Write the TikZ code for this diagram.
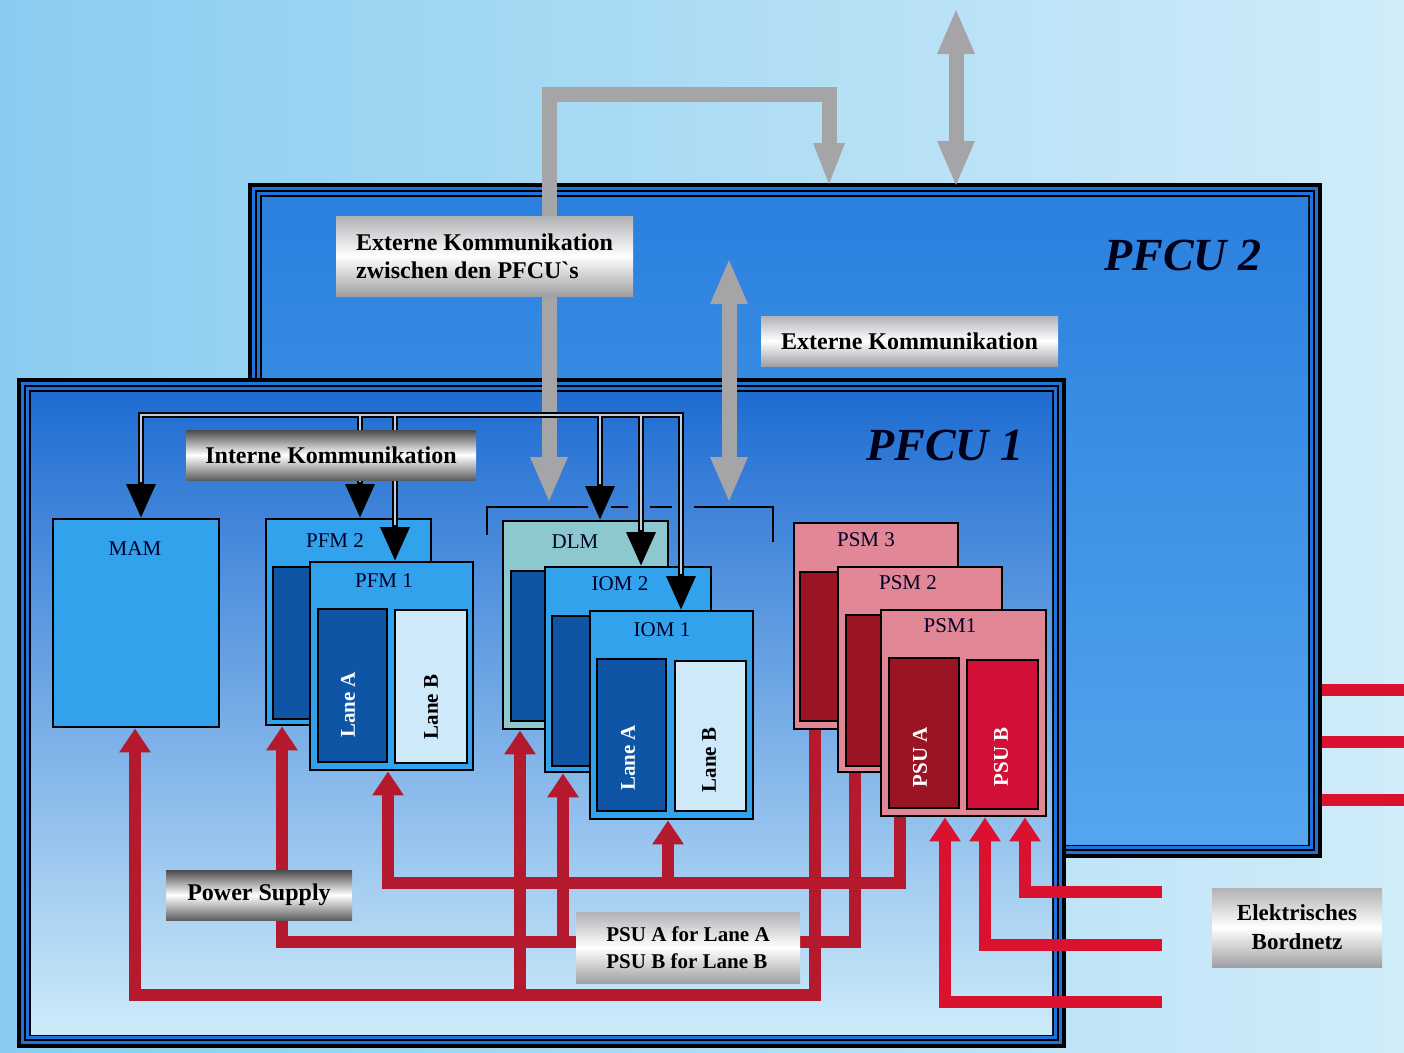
\documentclass[tikz,border=0pt]{standalone}
\usepackage{fontspec}
\setmainfont{Liberation Serif}
\usetikzlibrary{arrows.meta}
\definecolor{bgL}{RGB}{138,204,240}
\definecolor{bgR}{RGB}{208,236,249}
\definecolor{frameblue}{RGB}{30,115,220}
\definecolor{ptwoT}{RGB}{42,128,222}
\definecolor{ptwoB}{RGB}{85,165,238}
\definecolor{poneT}{RGB}{30,108,210}
\definecolor{poneM}{RGB}{95,170,236}
\definecolor{poneB}{RGB}{205,235,250}
\definecolor{modblue}{RGB}{50,162,236}
\definecolor{lanedark}{RGB}{15,85,165}
\definecolor{lanelight}{RGB}{205,233,250}
\definecolor{dlmcol}{RGB}{140,200,205}
\definecolor{psmpink}{RGB}{225,135,150}
\definecolor{psudark}{RGB}{155,20,35}
\definecolor{psucrim}{RGB}{210,15,55}
\definecolor{pwrred}{RGB}{180,25,45}
\definecolor{netred}{RGB}{218,18,48}
\definecolor{commgray}{RGB}{165,165,168}
\definecolor{commwhite}{RGB}{190,205,225}
\definecolor{silvT}{RGB}{178,178,182}
\definecolor{silvB}{RGB}{160,160,164}
\definecolor{darkT}{RGB}{75,75,78}
\definecolor{darkB}{RGB}{95,95,98}
\newcommand{\lblfont}{\fontsize{24}{28}\selectfont\bfseries}
\newcommand{\psulblfont}{\fontsize{21}{27}\selectfont\bfseries}
\newcommand{\modfont}{\fontsize{21}{24}\selectfont}
\newcommand{\lanefont}{\fontsize{21}{24}\selectfont\bfseries}
\newcommand{\pfcufont}{\fontsize{46}{50}\selectfont\bfseries\itshape}
\begin{document}
\begin{tikzpicture}[x=1pt,y=-1pt,
 mod/.style={draw=black,line width=2.4pt,inner sep=0pt,anchor=north west},
 lbl/.style={inner sep=0pt,font=\modfont,text=black!85!blue},
 lane/.style={inner sep=0pt,font=\lanefont,rotate=90},
 silver/.style={shade,top color=silvT,bottom color=silvB,middle color=white,inner sep=0pt,font=\lblfont},
 darkmetal/.style={shade,top color=darkT,bottom color=darkB,middle color=white,inner sep=0pt,font=\lblfont},
 pwr/.style={draw=pwrred,line width=12pt,line join=miter},
 net/.style={draw=netred,line width=12pt,line join=miter},
 rtip/.style={-{Triangle[width=30pt,length=24pt]}},
 comm/.style={draw=black,line width=6.5pt,line join=miter},
 commin/.style={draw=commwhite,line width=1.5pt,line join=miter},
 ctip/.style={-{Triangle[width=28pt,length=34pt]}},
 ctiptwo/.style={{Triangle[width=28pt,length=34pt]}-{Triangle[width=28pt,length=34pt]}},
 garrow/.style={draw=commgray,line width=15pt,line join=miter},
 gtiptwo/.style={{Triangle[width=34pt,length=46pt]}-{Triangle[width=34pt,length=46pt]}},
 title/.style={inner sep=0pt,font=\pfcufont,text=black!90!blue}
]
\useasboundingbox (0,0) rectangle (1404,1052);
\shade[left color=bgL,right color=bgR] (0,0) rectangle (1404,1052);

% PFCU 2 frame
\fill[frameblue] (248,183) rectangle (1322,858);
\draw[black,line width=4pt] (250,185) rectangle (1320,856);
\draw[black,line width=2.2pt] (256,191) rectangle (1314,850);
\draw[black,line width=2pt] (261,196) rectangle (1309,845);
\shade[top color=ptwoT,bottom color=ptwoB] (262,197) rectangle (1308,844);

% right stubs
\coordinate (sa1) at (1322,690); \coordinate (sa2) at (1404,690);
\coordinate (sb1) at (1322,742); \coordinate (sb2) at (1404,742);
\coordinate (sc1) at (1322,800); \coordinate (sc2) at (1404,800);
\draw[net] (sa1) -- (sa2);
\draw[net] (sb1) -- (sb2);
\draw[net] (sc1) -- (sc2);

% PFCU 1 frame
\fill[frameblue] (17,378) rectangle (1066,1048);
\draw[black,line width=4pt] (19,380) rectangle (1064,1046);
\draw[black,line width=2.2pt] (25,386) rectangle (1058,1040);
\draw[black,line width=2pt] (30,391) rectangle (1053,1035);
\shade[top color=poneT,middle color=poneM,bottom color=poneB] (31,392) rectangle (1052,1034);

% gray external communication arrows
\coordinate (gla) at (549,503); \coordinate (glb) at (549,94);
\coordinate (glc) at (829,94); \coordinate (gld) at (829,187);
\draw[garrow,{Triangle[width=34pt,length=46pt]}-{Triangle[width=28pt,length=44pt]}] (gla) -- (glb) -- (glc) -- (gld);
\coordinate (gta) at (956,8); \coordinate (gtb) at (956,187);
\draw[garrow,gtiptwo] (gta) -- (gtb);
\coordinate (gma) at (729,258); \coordinate (gmb) at (729,503);
\draw[garrow,gtiptwo] (gma) -- (gmb);

% bracket
\draw[black,line width=2.5pt] (487,535) -- (487,507) -- (588,507);
\draw[black,line width=2.5pt] (611,507) -- (628,507);
\draw[black,line width=2.5pt] (650,507) -- (672,507);
\draw[black,line width=2.5pt] (694,507) -- (773,507) -- (773,542);

% modules
\node[mod,fill=modblue,minimum width=166pt,minimum height=208pt] (mam) at (52,518) {};
\node[lbl] (mamt) at (135,549) {MAM};

\node[mod,fill=modblue,minimum width=165pt,minimum height=206pt] (pfm2) at (265,518) {};
\node[mod,fill=lanedark,minimum width=50pt,minimum height=152pt] (pfm2in) at (272,566) {};
\node[lbl] (pfm2t) at (335,541) {PFM 2};
\node[mod,fill=modblue,minimum width=163pt,minimum height=208pt] (pfm1) at (309,561) {};
\node[lbl] (pfm1t) at (384,581) {PFM 1};
\node[mod,fill=lanedark,minimum width=69pt,minimum height=153pt] (pfm1a) at (317,608) {};
\node[mod,fill=lanelight,minimum width=72pt,minimum height=153pt] (pfm1b) at (394,609) {};
\node[lane,text=white] (pfm1at) at (348,705) {Lane A};
\node[lane,text=black] (pfm1bt) at (431,707) {Lane B};

\node[mod,fill=dlmcol,minimum width=165pt,minimum height=208pt] (dlm) at (502,520) {};
\node[mod,fill=lanedark,minimum width=50pt,minimum height=150pt] (dlmin) at (510,570) {};
\node[lbl] (dlmt) at (575,542) {DLM};
\node[mod,fill=modblue,minimum width=166pt,minimum height=205pt] (iom2) at (544,566) {};
\node[mod,fill=lanedark,minimum width=50pt,minimum height=150pt] (iom2in) at (551,615) {};
\node[lbl] (iom2t) at (620,584) {IOM 2};
\node[mod,fill=modblue,minimum width=163pt,minimum height=208pt] (iom1) at (589,610) {};
\node[lbl] (iom1t) at (662,630) {IOM 1};
\node[mod,fill=lanedark,minimum width=69pt,minimum height=152pt] (iom1a) at (596,658) {};
\node[mod,fill=lanelight,minimum width=71pt,minimum height=150pt] (iom1b) at (674,660) {};
\node[lane,text=white] (iom1at) at (628,758) {Lane A};
\node[lane,text=black] (iom1bt) at (709,760) {Lane B};

\node[mod,fill=psmpink,minimum width=164pt,minimum height=206pt] (psm3) at (793,522) {};
\node[mod,fill=psudark,minimum width=50pt,minimum height=149pt] (psm3in) at (799,571) {};
\node[lbl] (psm3t) at (866,540) {PSM 3};
\node[mod,fill=psmpink,minimum width=164pt,minimum height=205pt] (psm2) at (837,566) {};
\node[mod,fill=psudark,minimum width=50pt,minimum height=151pt] (psm2in) at (845,614) {};
\node[lbl] (psm2t) at (908,583) {PSM 2};
\node[mod,fill=psmpink,minimum width=165pt,minimum height=206pt] (psm1) at (880,609) {};
\node[lbl] (psm1t) at (950,626) {PSM1};
\node[mod,fill=psudark,minimum width=70pt,minimum height=150pt] (psua) at (888,657) {};
\node[mod,fill=psucrim,minimum width=71pt,minimum height=149pt] (psub) at (966,659) {};
\node[lane,text=white] (psuat) at (920,757) {PSU A};
\node[lane,text=white] (psubt) at (1001,757) {PSU B};

% power supply lines
\coordinate (ra) at (815,995); \coordinate (ral) at (135,995); \coordinate (rad) at (520,995);
\coordinate (rb) at (855,942); \coordinate (rbl) at (282,942); \coordinate (rbd) at (563,942);
\coordinate (rc) at (900,883); \coordinate (rcl) at (388,883); \coordinate (rcd) at (668,883);
\draw[pwr,rtip] (ra |- psm3.south) -- (ra) -- (ral) -- (ral |- mam.south);
\draw[pwr,rtip] (rad) -- (rad |- dlm.south);
\draw[pwr,rtip] (rb |- psm2.south) -- (rb) -- (rbl) -- (rbl |- pfm2.south);
\draw[pwr,rtip] (rbd) -- (rbd |- iom2.south);
\draw[pwr,rtip] (rc |- psm1.south) -- (rc) -- (rcl) -- (rcl |- pfm1.south);
\draw[pwr,rtip] (rcd) -- (rcd |- iom1.south);

% Bordnetz lines
\coordinate (na) at (1162,892); \coordinate (nac) at (1025,892);
\coordinate (nb) at (1162,945); \coordinate (nbc) at (985,945);
\coordinate (nc) at (1162,1002); \coordinate (ncc) at (945,1002);
\draw[net,rtip] (na) -- (nac) -- (nac |- psm1.south);
\draw[net,rtip] (nb) -- (nbc) -- (nbc |- psm1.south);
\draw[net,rtip] (nc) -- (ncc) -- (ncc |- psm1.south);

% internal communication
\coordinate (busl) at (141,415); \coordinate (busr) at (681,415);
\coordinate (bpa) at (360,415); \coordinate (bpb) at (395,415);
\coordinate (bda) at (600,415); \coordinate (bdb) at (641,415);
\draw[comm,ctiptwo] (busr |- iom1.north) -- (busr) -- (busl) -- (busl |- mam.north);
\draw[comm,ctip] (bpa) -- (bpa |- pfm2.north);
\draw[comm,ctip] (bpb) -- (bpb |- pfm1.north);
\draw[comm,ctip] (bda) -- (bda |- dlm.north);
\draw[comm,ctip] (bdb) -- (bdb |- iom2.north);
\draw[commin,shorten <=36pt,shorten >=36pt] (busr |- iom1.north) -- (busr) -- (busl) -- (busl |- mam.north);
\draw[commin,shorten >=36pt] (bpa) -- (bpa |- pfm2.north);
\draw[commin,shorten >=36pt] (bpb) -- (bpb |- pfm1.north);
\draw[commin,shorten >=36pt] (bda) -- (bda |- dlm.north);
\draw[commin,shorten >=36pt] (bdb) -- (bdb |- iom2.north);

% labels
\node[silver,minimum width=297pt,minimum height=80pt,align=left] (ext2) at (484.5,256) {Externe Kommunikation\\zwischen den PFCU\textasciigrave s};
\node[silver,minimum width=297pt,minimum height=50pt] (ext1) at (909.5,341) {Externe Kommunikation};
\node[darkmetal,minimum width=290pt,minimum height=50pt] (intk) at (331,455) {Interne Kommunikation};
\node[darkmetal,minimum width=186pt,minimum height=50pt] (psup) at (259,895) {Power Supply};
\node[silver,minimum width=224pt,minimum height=71pt,align=left,font=\psulblfont] (psul) at (688,947.5) {PSU A for Lane A\\PSU B for Lane B};
\node[silver,minimum width=170pt,minimum height=79pt,align=center,font=\fontsize{23}{29}\selectfont\bfseries] (bord) at (1297,927.5) {Elektrisches\\Bordnetz};

% titles
\node[title] (ttwo) at (1183,255) {PFCU 2};
\node[title] (tone) at (945,445) {PFCU 1};
\end{tikzpicture}
\end{document}
